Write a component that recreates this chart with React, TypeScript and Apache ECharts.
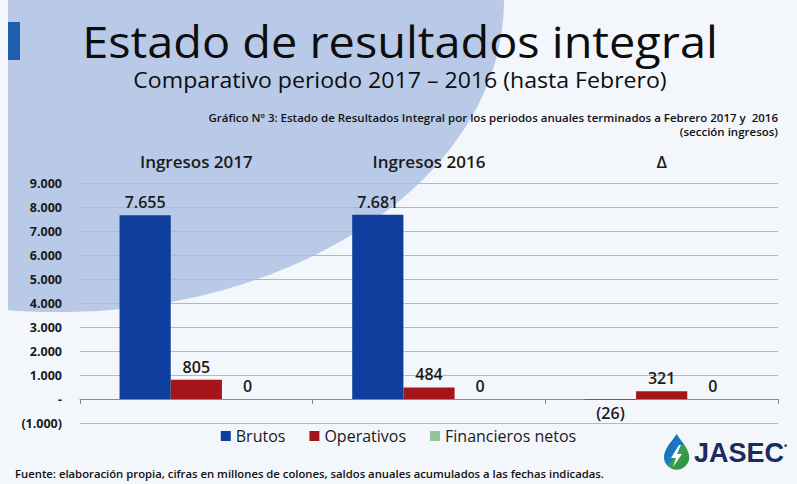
import React, { useEffect, useRef } from "react";
import * as echarts from "echarts";

const categories = ["Ingresos 2017", "Ingresos 2016", "Δ"];
const seriesNames = ["Brutos", "Operativos", "Financieros netos"];
const brutos = [7655, 7681, -26];
const operativos = [805, 484, 321];
const financieros = [0, 0, 0];
const seriesColors = ["#0f3e9e", "#a5161b", "#92c49c"];

const titleText = "Estado de resultados integral";
const subtitleText = "Comparativo periodo 2017 – 2016 (hasta Febrero)";
const noteLine1 = "Gráfico Nº 3: Estado de Resultados Integral por los periodos anuales terminados a Febrero 2017 y  2016";
const noteLine2 = "(sección ingresos)";
const sourceText = "Fuente: elaboración propia, cifras en millones de colones, saldos anuales acumulados a las fechas indicadas.";

const FONT = "'Open Sans', Lato, sans-serif";

function fmt(v: number): string {
  if (v === 0) return "-";
  const abs = Math.abs(v);
  const s = abs.toString().replace(/\B(?=(\d{3})+(?!\d))/g, ".");
  return v < 0 ? "(" + s + ")" : s;
}
function fmtLabel(v: number): string {
  if (v === 0) return "0";
  return fmt(v);
}

echarts.graphic.registerShape(
  "drop",
  echarts.graphic.extendPath(
    "M12 0 C9 5 0 14 0 22 A12 12 0 0 0 24 22 C24 14 15 5 12 0 Z",
    {}
  )
);

export default function App() {
  const ref = useRef<HTMLDivElement>(null);
  useEffect(() => {
    if (!ref.current) return;
    const chart = echarts.init(ref.current, null, { renderer: "svg" });
    const mk = (arr: number[]) =>
      arr.map((v) => ({
        value: v,
        label: { position: v < 0 ? "bottom" : "top" },
      }));
    const datas = [brutos, operativos, financieros];
    chart.setOption({
      animation: false,
      backgroundColor: "#f3f6fb",
      graphic: [
        {
          type: "ellipse",
          z: -10,
          shape: { cx: 58, cy: 0, rx: 446, ry: 312 },
          style: { fill: "#b8cae8" },
        },
        { type: "rect", z: -9, shape: { x: 0, y: 0, width: 8, height: 484 }, style: { fill: "#f3f6fb" } },
        { type: "rect", shape: { x: 8, y: 22, width: 12, height: 38 }, style: { fill: "#1f5fae" } },
        {
          type: "text",
          x: 400,
          y: 41,
          scaleX: 1.065,
          style: { text: titleText, font: "44px " + FONT, lineHeight: 44, fill: "#0d0d0d", align: "center", verticalAlign: "middle" },
        },
        {
          type: "text",
          x: 400,
          y: 80,
          scaleX: 1.05,
          style: { text: subtitleText, font: "22px " + FONT, lineHeight: 22, fill: "#0d0d0d", align: "center", verticalAlign: "middle" },
        },
        {
          type: "text",
          x: 778,
          y: 117,
          style: { text: noteLine1, font: "600 11.5px " + FONT, lineHeight: 12, fill: "#111", align: "right", verticalAlign: "middle" },
        },
        {
          type: "text",
          x: 778,
          y: 131,
          style: { text: noteLine2, font: "600 11.5px " + FONT, lineHeight: 12, fill: "#111", align: "right", verticalAlign: "middle" },
        },
        {
          type: "text",
          x: 15,
          y: 473,
          style: { text: sourceText, font: "600 11.3px " + FONT, fill: "#111", align: "left", verticalAlign: "middle" },
        },
        {
          type: "drop",
          x: 664,
          y: 434,
          scaleX: 1.05,
          scaleY: 1.05,
          style: {
            fill: new echarts.graphic.LinearGradient(0, 0, 1, 1, [
              { offset: 0, color: "#1a5fb4" },
              { offset: 0.5, color: "#1a7fc0" },
              { offset: 0.55, color: "#3aa04a" },
              { offset: 1, color: "#2e8b3a" },
            ]),
          },
        },
        {
          type: "polygon",
          shape: { points: [[679, 445], [671, 458], [676, 458], [673, 467], [682, 454], [677, 454], [681, 445]] },
          style: { fill: "#ffffff" },
        },
        {
          type: "text",
          x: 694,
          y: 453,
          style: { text: "JASEC", font: "bold 27px 'Liberation Sans', Arial, sans-serif", fill: "#1b2b5c", align: "left", verticalAlign: "middle" },
        },
        {
          type: "text",
          x: 784,
          y: 446,
          style: { text: "•", font: "bold 9px sans-serif", fill: "#1b2b5c", align: "left", verticalAlign: "middle" },
        },
      ],
      legend: {
        data: seriesNames,
        bottom: 35,
        left: "center",
        itemWidth: 10,
        itemHeight: 10,
        itemGap: 24,
        icon: "rect",
        textStyle: { fontFamily: FONT, fontSize: 16, color: "#1a1a1a" },
      },
      grid: { left: 80, right: 19, top: 183, bottom: 61 },
      xAxis: [
        {
          type: "category",
          data: categories,
          position: "bottom",
          axisLine: { onZero: true, lineStyle: { color: "#8a8a8a", width: 1 } },
          axisTick: { show: true, length: 5, lineStyle: { color: "#8a8a8a" } },
          axisLabel: { show: false },
        },
        {
          type: "category",
          data: categories,
          position: "top",
          axisLine: { show: false },
          axisTick: { show: false },
          axisLabel: {
            margin: 13,
            fontFamily: FONT,
            fontSize: 17,
            fontWeight: 600,
            color: "#1a1a1a",
          },
        },
      ],
      yAxis: {
        type: "value",
        min: -1000,
        max: 9000,
        interval: 1000,
        axisLine: { show: false },
        axisTick: { show: false },
        splitLine: { lineStyle: { color: "#9fbde2", width: 1 } },
        axisLabel: {
          formatter: (v: number) => fmt(v),
          margin: 18,
          fontFamily: FONT,
          fontSize: 12.5,
          fontWeight: "bold",
          color: "#1a1a1a",
        },
      },
      series: seriesNames.map((name, i) => ({
        name,
        type: "bar",
        xAxisIndex: 0,
        data: mk(datas[i]),
        barGap: "0%",
        barCategoryGap: "34%",
        itemStyle: { color: seriesColors[i] },
        label: {
          show: true,
          distance: 5,
          formatter: (p: any) => fmtLabel(p.value),
          fontFamily: FONT,
          fontSize: 16,
          fontWeight: 600,
          color: "#1a1a1a",
        },
      })),
    });
    return () => chart.dispose();
  }, []);
  return <div ref={ref} style={{ position: "fixed", left: 0, top: 0, width: 797, height: 484 }} />;
}
